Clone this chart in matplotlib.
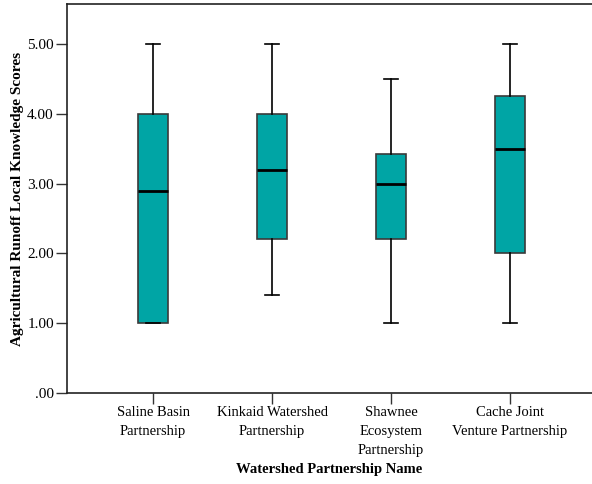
import matplotlib
matplotlib.use("Agg")
import matplotlib.pyplot as plt

categories = ["Saline Basin\nPartnership", "Kinkaid Watershed\nPartnership",
              "Shawnee\nEcosystem\nPartnership", "Cache Joint\nVenture Partnership"]
whisker_low = [1.0, 1.4, 1.0, 1.0]
q1 = [1.0, 2.2, 2.2, 2.0]
median = [2.9, 3.2, 3.0, 3.5]
q3 = [4.0, 4.0, 3.42, 4.25]
whisker_high = [5.0, 5.0, 4.5, 5.0]
yticks = [0, 1, 2, 3, 4, 5]
ytick_labels = [".00", "1.00", "2.00", "3.00", "4.00", "5.00"]

plt.rcParams['font.family'] = ['Liberation Serif', 'DejaVu Serif']

fig = plt.figure(figsize=(5.92, 4.84), dpi=100)
ax = fig.add_axes([67/592, 91/484, 1 - 67/592, 389/484])

stats = []
for i in range(len(categories)):
    stats.append(dict(whislo=whisker_low[i], q1=q1[i], med=median[i], q3=q3[i],
                      whishi=whisker_high[i], fliers=[]))
positions = list(range(1, len(categories) + 1))
ax.bxp(stats, positions=positions, widths=0.25, patch_artist=True, showfliers=False,
       boxprops=dict(facecolor="#00A5A5", edgecolor="#3a3a3a", linewidth=1.2),
       medianprops=dict(color="black", linewidth=2),
       whiskerprops=dict(color="black", linewidth=1.2),
       capprops=dict(color="black", linewidth=1.2),
       capwidths=0.12)

ax.set_xlim(0.277, 4.689)
ax.set_ylim(0, 5.573)
ax.set_yticks(yticks)
ax.set_yticklabels(ytick_labels, fontsize=11)
ax.set_xticks(positions)
ax.set_xticklabels(categories, fontsize=10.5, linespacing=1.6)
ax.tick_params(axis='both', direction='out', length=8, width=1, color='#333333', pad=1.5)
ax.spines['right'].set_visible(False)
for s in ['left', 'top', 'bottom']:
    ax.spines[s].set_linewidth(1.2)
    ax.spines[s].set_color('#222222')

ax.set_ylabel("Agricultural Runoff Local Knowledge Scores", fontsize=11, fontweight='bold', labelpad=2)
ax.set_xlabel("Watershed Partnership Name", fontsize=10.5, fontweight='bold', labelpad=4)

fig.savefig("out.png", dpi=100)
